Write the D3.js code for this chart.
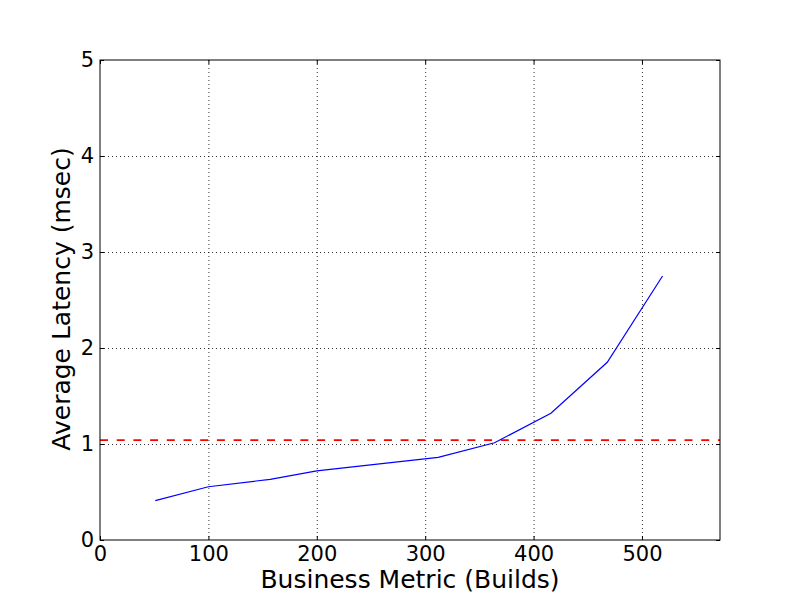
<!DOCTYPE html>
<html>
<head>
<meta charset="utf-8">
<script src="https://cdn.jsdelivr.net/npm/d3@7"></script>
<style>
  html, body { margin: 0; padding: 0; background: #fff; }
  text { font-family: "DejaVu Sans", sans-serif; }
</style>
</head>
<body>
<svg id="chart" width="800" height="600"></svg>
<script>
// Data
const builds = [51, 100, 157, 200, 260, 312, 364, 416, 468, 519];
const latency = [0.41, 0.555, 0.632, 0.72, 0.795, 0.861, 1.013, 1.32, 1.851, 2.75];
const threshold = 1.04;
const xTicks = [0, 100, 200, 300, 400, 500];
const yTicks = [0, 1, 2, 3, 4, 5];
const xLabel = "Business Metric (Builds)";
const yLabel = "Average Latency (msec)";

const svg = d3.select("#chart");
const L = 100, R = 720, T = 60, B = 540;
const x = d3.scaleLinear().domain([0, 572]).range([L, R]);
const y = d3.scaleLinear().domain([0, 5]).range([B, T]);

// grid
const grid = svg.append("g");
grid.selectAll("line.gx").data(xTicks.filter(d => d > 0)).enter().append("line")
  .attr("x1", d => x(d) + 0.5).attr("x2", d => x(d) + 0.5)
  .attr("y1", T).attr("y2", B)
  .attr("stroke", "#000").attr("stroke-width", 0.8).attr("stroke-dasharray", "1,3");
grid.selectAll("line.gy").data(yTicks.filter(d => d > 0 && d < 5)).enter().append("line")
  .attr("y1", d => Math.round(y(d)) + 0.5).attr("y2", d => Math.round(y(d)) + 0.5)
  .attr("x1", L).attr("x2", R)
  .attr("stroke", "#000").attr("stroke-width", 0.8).attr("stroke-dasharray", "1,3");

// threshold line
svg.append("line")
  .attr("x1", L).attr("x2", R)
  .attr("y1", y(threshold)).attr("y2", y(threshold))
  .attr("stroke", "#ff0000").attr("stroke-width", 1.8).attr("stroke-dasharray", "8,8.7");

// data line
const pts = builds.map((b, i) => [b, latency[i]]);
svg.append("path").datum(pts)
  .attr("fill", "none").attr("stroke", "#0000ff").attr("stroke-width", 1.2)
  .attr("d", d3.line().x(d => x(d[0])).y(d => y(d[1])));

// axes (ticks inward, matplotlib classic style)
const tfs = 21, lfs = 25;
const xAxis = d3.axisBottom(x).tickValues(xTicks).tickSize(-4).tickFormat(d3.format("d"));
const yAxis = d3.axisLeft(y).tickValues(yTicks).tickSize(-4).tickPadding(6).tickFormat(d3.format("d"));
const gx = svg.append("g").attr("transform", `translate(0,${B})`).call(xAxis);
const gy = svg.append("g").attr("transform", `translate(${L},0)`).call(yAxis);
[gx, gy].forEach(g => {
  g.select(".domain").remove();
  g.selectAll(".tick line").attr("stroke", "#000");
  g.selectAll(".tick text").attr("font-size", tfs).attr("fill", "#000").attr("font-family", "DejaVu Sans");
});
gx.selectAll(".tick text").attr("dy", 0).attr("y", 21);
// top/right ticks
const gxt = svg.append("g").attr("transform", `translate(0,${T})`).call(d3.axisTop(x).tickValues(xTicks).tickSize(-4).tickFormat(""));
const gyr = svg.append("g").attr("transform", `translate(${R},0)`).call(d3.axisRight(y).tickValues(yTicks).tickSize(-4).tickFormat(""));
[gxt, gyr].forEach(g => { g.select(".domain").remove(); g.selectAll(".tick line").attr("stroke", "#000"); });

// frame
svg.append("rect").attr("x", L).attr("y", T).attr("width", R - L).attr("height", B - T)
  .attr("fill", "none").attr("stroke", "#000").attr("stroke-width", 1);

// labels
svg.append("text").attr("x", (L + R) / 2 + 0).attr("y", 588).attr("text-anchor", "middle")
  .attr("font-size", lfs).attr("fill", "#000").text(xLabel);
svg.append("text").attr("transform", `translate(70,${(T + B) / 2 - 1}) rotate(-90)`)
  .attr("text-anchor", "middle").attr("font-size", lfs).attr("fill", "#000").text(yLabel);
</script>
</body>
</html>
